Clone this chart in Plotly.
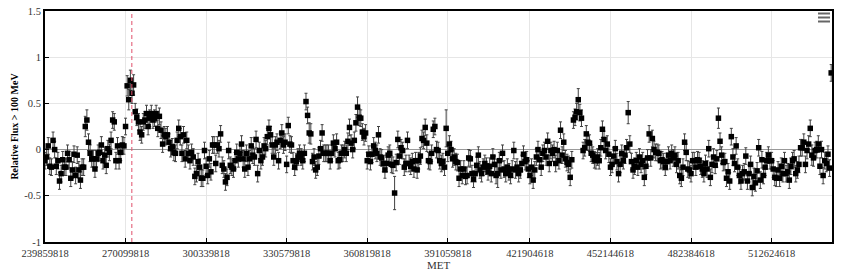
import plotly.graph_objects as go

# Weekly-binned light curve (relative flux > 100 MeV) vs MET
met_start = 239859818
bin_width = 604800  # one week

flux_a = [-0.12, -0.08, 0.04, -0.18, -0.19, 0.10, 0.00, -0.18, -0.12, -0.34,
          -0.26, -0.11, -0.19, -0.19, -0.04, -0.11, -0.31, -0.22, -0.05, -0.28,
          -0.06, -0.22, -0.33, -0.19, -0.19, 0.25, 0.32, 0.08, -0.04, -0.10,
          -0.10, -0.21, -0.10, -0.04, -0.03, 0.05, -0.12, -0.06, -0.17, 0.01,
          -0.03, 0.10, 0.32, 0.30, -0.12, 0.04, -0.12, -0.03, 0.05, 0.04,
          0.25, 0.69, 0.54, 0.75, 0.61, 0.70, 0.41, 0.35, 0.30, 0.19,
          0.16, 0.30, 0.32, 0.39, 0.25, 0.34, 0.39, 0.32, 0.34, 0.39,
          0.23, 0.36, 0.21, 0.06, 0.16, 0.14, 0.16, 0.08, 0.01, 0.03,
          -0.03, -0.04, 0.10]
flux_b = [0.23, 0.14, -0.04, 0.16, -0.10, 0.10, -0.04, -0.12, -0.03,
          -0.08, -0.29, -0.26, -0.13, -0.19, -0.31, -0.31, -0.01, -0.18,
          -0.28, -0.10, -0.24, 0.05, 0.05, -0.15, 0.05, 0.01, 0.17, -0.17,
          -0.21, -0.35, -0.30, -0.01, -0.17, -0.19, -0.21, -0.12, -0.03, -0.10,
          -0.04, 0.06, -0.10, -0.21, -0.04, -0.19, -0.10, 0.04, -0.06,
          -0.08, 0.11, -0.26, -0.01, -0.12, -0.08, 0.04, 0.01, 0.14, 0.23,
          0.16, 0.05, -0.08, 0.05, 0.08, -0.12, 0.10, 0.18, 0.05, 0.08,
          -0.16, 0.26, 0.06, 0.05, -0.12, -0.19, -0.13, -0.08, -0.04, -0.08,
          -0.12, -0.04, 0.52, 0.37, 0.18]
flux_c = [0.17, -0.13, -0.08, -0.22, -0.19, -0.07, 0.01, 0.18, -0.04, -0.04,
          -0.04, -0.04, -0.12, -0.04, 0.07, 0.01, 0.08, -0.12, -0.11, -0.04,
          -0.04, 0.00, -0.04, 0.09, 0.24, 0.07, 0.00, 0.10, 0.29, 0.46,
          0.35, 0.34, 0.19, 0.14, 0.18, -0.12, -0.05, -0.13, -0.05, 0.04,
          -0.01, -0.04, 0.16, -0.08, -0.09, -0.15, -0.22, -0.15, -0.06, -0.04,
          -0.16, -0.17, -0.47, -0.14, 0.11, -0.07, 0.02, -0.01, -0.19, -0.15,
          0.10, -0.15, -0.18, -0.13, -0.21, -0.12, -0.22, -0.12, -0.07, 0.12,
          0.10, 0.24, 0.07, -0.12, -0.13, -0.04, 0.22, 0.25, 0.00, -0.01,
          -0.12, -0.15, -0.13]
flux_d = [-0.19, 0.23, -0.04, 0.06, 0.00, -0.10, -0.08, -0.13, -0.14, -0.31,
          -0.21, -0.28, -0.21, -0.29, -0.28, -0.09, -0.10, -0.26, -0.32, -0.26,
          -0.17, -0.06, -0.22, -0.26, -0.19, -0.15, -0.18, -0.24, -0.18, -0.26,
          -0.08, -0.16, -0.28, -0.26, -0.12, -0.22, -0.04, -0.21, -0.26, -0.19,
          -0.24, -0.28, -0.21, -0.01, -0.22, -0.19, -0.26, -0.22, -0.15, -0.05,
          -0.13, -0.11, -0.21, -0.28, -0.19, -0.33, -0.22, -0.08, 0.00, -0.11,
          -0.19, -0.04, -0.01, -0.08, 0.09, -0.15, -0.01, -0.04, 0.00, -0.15,
          -0.01, -0.12, 0.21, -0.06, 0.08, -0.10, -0.14, -0.16, -0.30]
flux_e = [-0.11, 0.32, 0.35, 0.41, 0.54, 0.40, 0.34, -0.01, 0.02, 0.17,
          0.08, 0.07, -0.04, -0.06, -0.11, -0.12, -0.08, -0.12, 0.02, 0.22,
          0.11, -0.01, 0.06, -0.05, -0.19, -0.16, -0.07, 0.01, -0.13, -0.26,
          -0.16, -0.04, -0.12, -0.06, 0.02, 0.40, 0.06, -0.13, -0.22, -0.18,
          -0.12, -0.19, -0.08, -0.16, -0.12, -0.30, -0.18, -0.09, 0.17, -0.09,
          0.12, 0.00, -0.03, -0.03, -0.04, -0.12, -0.11, -0.13, -0.19, -0.13,
          -0.06, -0.12, -0.04, -0.09, -0.06, -0.16, -0.12, -0.28, -0.31, -0.19,
          0.08, -0.03, -0.21, -0.22, -0.26, -0.12, -0.12, -0.19, -0.11, -0.12,
          -0.18, -0.21]
flux_f = [-0.26, -0.15, -0.21, 0.01, -0.30, -0.16, -0.08, -0.17, -0.10, 0.34,
          0.09, -0.06, -0.14, -0.13, -0.31, -0.24, -0.34, 0.14, -0.08, -0.15,
          0.04, -0.19, -0.28, -0.34, -0.26, -0.24, -0.07, -0.34, -0.26, -0.16,
          -0.41, -0.29, -0.36, -0.23, 0.02, -0.33, -0.11, -0.28, -0.19, -0.12,
          -0.06, -0.12, -0.12, -0.21, -0.30, -0.31, -0.22, -0.31, -0.18, -0.26,
          -0.12, -0.26, -0.24, -0.33, -0.18, -0.12, -0.10, -0.26, -0.22, -0.16,
          0.02, 0.02, 0.08, -0.16, -0.01, 0.06, 0.23, -0.06, -0.09, -0.01,
          0.00, 0.06, -0.18, 0.00, -0.28, -0.12, -0.15, -0.05, -0.20, 0.83]

flux = flux_a + flux_b + flux_c + flux_d + flux_e + flux_f
met = [met_start + bin_width * i for i in range(len(flux))]

err_typical = 0.09
err_special = {51: 0.11, 52: 0.11, 53: 0.11, 54: 0.11, 55: 0.11, 25: 0.11,
               26: 0.11, 164: 0.11, 165: 0.11, 194: 0.11, 217: 0.18,
               249: 0.2, 281: 0.15, 331: 0.12, 362: 0.12, 418: 0.11, 476: 0.11}
flux_err = [err_special.get(i, err_typical) for i in range(len(flux))]

tick_vals = [239859818, 270099818, 300339818, 330579818, 360819818,
             391059818, 421904618, 452144618, 482384618, 512624618]
tick_text = [str(v) for v in tick_vals]
flare_met = 272460000
x_min, x_max = 239859818, 535304618

fig = go.Figure()
fig.add_trace(go.Scatter(
    x=met, y=flux, mode="markers",
    marker=dict(symbol="square", size=5.5, color="black"),
    error_y=dict(type="data", array=flux_err, color="#404040",
                 thickness=1, width=1.5),
    showlegend=False, hoverinfo="x+y",
))

fig.add_shape(type="line", x0=flare_met, x1=flare_met, xref="x",
              y0=0, y1=1, yref="paper", layer="above",
              line=dict(color="#e0506a", width=1, dash="4px,3px"))

# export-menu icon (top right)
for py in (13.5, 17.5, 21.5):
    yp = (242 - py) / 231
    fig.add_shape(type="line", xref="paper", yref="paper",
                  x0=(817 - 45) / 786, x1=(829 - 45) / 786, y0=yp, y1=yp,
                  line=dict(color="#666666", width=2))

font_serif = "Liberation Serif, Times New Roman, serif"
fig.update_layout(
    width=841, height=278,
    margin=dict(l=45, r=9, t=11, b=36),
    paper_bgcolor="white", plot_bgcolor="white",
    font=dict(family=font_serif, size=10, color="#333333"),
    xaxis=dict(range=[x_min, x_max], tickmode="array", tickvals=tick_vals,
               ticktext=tick_text, showgrid=True, gridcolor="#e6e6e6",
               gridwidth=1, showline=True, linecolor="black", linewidth=2,
               mirror=True, ticks="inside", ticklen=4, tickcolor="black",
               automargin=False,
               tickfont=dict(family=font_serif, size=10.5, color="#333333"),
               zeroline=False,
               title=dict(text="MET", font=dict(family=font_serif, size=11,
                                                color="#333333"), standoff=2)),
    yaxis=dict(range=[-1, 1.5], tickmode="array",
               tickvals=[-1, -0.5, 0, 0.5, 1, 1.5],
               ticktext=["-1", "-0.5", "0", "0.5", "1", "1.5"],
               showgrid=True, gridcolor="#e6e6e6", gridwidth=1,
               showline=True, linecolor="black", linewidth=2, mirror=True,
               ticks="inside", ticklen=4, tickcolor="black",
               automargin=False,
               zeroline=True, zerolinecolor="#999999", zerolinewidth=1,
               tickfont=dict(family=font_serif, size=10.5, color="#333333"),
               title=dict(text="<b>Relative Flux > 100 MeV</b>",
                          font=dict(family=font_serif, size=10, color="#000000"),
                          standoff=4)),
)

fig.write_html("out.html", config={"displayModeBar": False},
               post_script="document.body.style.margin='0';")
